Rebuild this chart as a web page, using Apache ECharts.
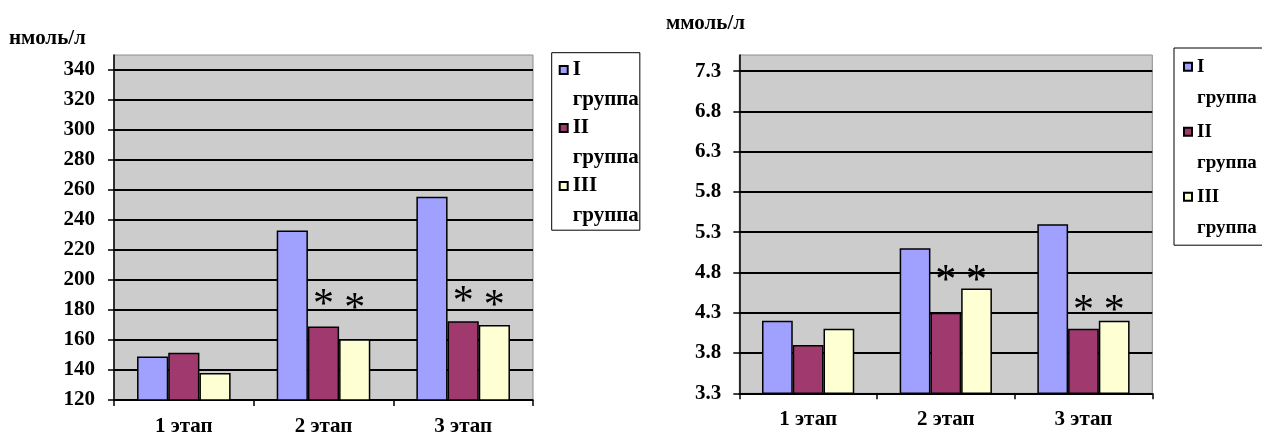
<!DOCTYPE html>
<html>
<head>
<meta charset="utf-8">
<script src="https://cdn.jsdelivr.net/npm/echarts@6/dist/echarts.min.js"></script>
<style>
  html, body { margin: 0; padding: 0; background: #fff; }
  #chart { width: 1262px; height: 434px; }
</style>
</head>
<body>
<div id="chart"></div>
<script>
const stages = ['1 этап', '2 этап', '3 этап']
const groups = ['I группа', 'II группа', 'III группа']

// левая диаграмма, нмоль/л
const nmolTicks = [120, 140, 160, 180, 200, 220, 240, 260, 280, 300, 320, 340]
const nmolG1 = [149, 233, 255.5]
const nmolG2 = [151.5, 169, 172.5]
const nmolG3 = [138, 160.5, 170]
// уровень звёздочек (null - нет)
const nmolStarG2 = [null, 190, 191.8]
const nmolStarG3 = [null, 187.3, 189.5]

// правая диаграмма, ммоль/л
const mmolTicks = [3.3, 3.8, 4.3, 4.8, 5.3, 5.8, 6.3, 6.8, 7.3]
const mmolG1 = [4.2, 5.1, 5.4]
const mmolG2 = [3.9, 4.3, 4.1]
const mmolG3 = [4.1, 4.6, 4.2]
const mmolStarG2 = [null, 4.82, 4.45]
const mmolStarG3 = [null, 4.82, 4.45]

const colors = ['#a0a0ff', '#a03a6e', '#ffffd4']
const font = 'Liberation Serif'

function barSeries(name, data, idx, color, stack) {
  return {
    name: name,
    type: 'bar',
    xAxisIndex: idx,
    yAxisIndex: idx,
    stack: stack,
    data: data,
    barCategoryGap: '33%',
    barGap: '0%',
    itemStyle: { color: color, borderColor: '#000', borderWidth: 1.5 },
    silent: true
  }
}

// прозрачный столбик поверх, на вершине - звёздочка
function starSeries(stars, values, idx, stack) {
  return {
    type: 'bar',
    xAxisIndex: idx,
    yAxisIndex: idx,
    stack: stack,
    silent: true,
    data: stars.map((s, i) => (s == null ? '-' : s - values[i])),
    itemStyle: { color: 'rgba(0,0,0,0)', borderWidth: 0 },
    label: {
      show: true,
      position: 'top',
      distance: 0,
      formatter: '*',
      verticalAlign: 'middle',
      offset: [0, 11],
      fontFamily: font,
      fontSize: 42,
      color: '#000'
    }
  }
}

function xAxis(idx) {
  return {
    type: 'category',
    gridIndex: idx,
    data: stages,
    axisLine: { lineStyle: { color: '#000', width: 1.5 } },
    axisTick: { show: true, length: 6, lineStyle: { color: '#000', width: 1.5 } },
    axisLabel: { margin: 16, color: '#000', fontFamily: font, fontWeight: 'bold', fontSize: 21 }
  }
}

function yAxis(idx, min, max, ticks, margin) {
  return {
    type: 'value',
    gridIndex: idx,
    min: min,
    max: max,
    axisLine: { show: true, lineStyle: { color: '#000', width: 1.5 } },
    axisTick: { show: true, length: 6, customValues: ticks, lineStyle: { color: '#000', width: 1.5 } },
    axisLabel: { customValues: ticks, margin: margin, color: '#000', fontFamily: font, fontWeight: 'bold', fontSize: 21 },
    splitLine: { show: true, lineStyle: { color: '#000', width: 2 } }
  }
}

// значок выровнен по первой строке подписи: невидимый хвост пути удлиняет его вниз
function legend(left, top, gap, padding, size, lh) {
  return {
    data: groups,
    orient: 'vertical',
    left: left,
    top: top,
    itemGap: gap,
    padding: padding,
    borderColor: '#000',
    borderWidth: 1,
    backgroundColor: '#fff',
    selectedMode: false,
    icon: 'path://M0 0H8V8H0Z M0 ' + (8 + lh),
    itemWidth: 8,
    itemHeight: 8 + lh,
    itemStyle: { borderColor: '#000', borderWidth: 2 },
    formatter: name => name.replace(' ', '\n'),
    textStyle: { fontFamily: font, fontWeight: 'bold', fontSize: size, lineHeight: lh, color: '#000' }
  }
}

const titleStyle = { fontFamily: font, fontWeight: 'bold', fontSize: 21, lineHeight: 22, color: '#000' }

const chart = echarts.init(document.getElementById('chart'))
chart.setOption({
  animation: false,
  backgroundColor: '#fff',
  title: [
    { text: 'нмоль/л', left: 9, top: 28, padding: 0, textStyle: titleStyle },
    { text: 'ммоль/л', left: 666, top: 13, padding: 0, textStyle: titleStyle }
  ],
  legend: [
    legend(551.7, 52.7, -1, [2.5, 1, 0, 7], 21, 29.5),
    legend(1174, 48, 3, [3.2, 40, 2, 9], 19, 31)
  ],
  grid: [
    { left: 114, top: 55, width: 419, height: 345, show: true, backgroundColor: '#cccccc',
      borderColor: '#8c8c8c', borderWidth: 1, outerBoundsMode: 'none' },
    { left: 739.3, top: 55, width: 413, height: 338.3, show: true, backgroundColor: '#cccccc',
      borderColor: '#8c8c8c', borderWidth: 1, outerBoundsMode: 'none' }
  ],
  xAxis: [xAxis(0), xAxis(1)],
  yAxis: [yAxis(0, 120, 350, nmolTicks, 19), yAxis(1, 3.3, 7.5, mmolTicks, 18)],
  series: [
    barSeries(groups[0], nmolG1, 0, colors[0], 'a1'),
    barSeries(groups[1], nmolG2, 0, colors[1], 'a2'),
    barSeries(groups[2], nmolG3, 0, colors[2], 'a3'),
    starSeries(nmolStarG2, nmolG2, 0, 'a2'),
    starSeries(nmolStarG3, nmolG3, 0, 'a3'),
    barSeries(groups[0], mmolG1, 1, colors[0], 'b1'),
    barSeries(groups[1], mmolG2, 1, colors[1], 'b2'),
    barSeries(groups[2], mmolG3, 1, colors[2], 'b3'),
    starSeries(mmolStarG2, mmolG2, 1, 'b2'),
    starSeries(mmolStarG3, mmolG3, 1, 'b3')
  ]
})
</script>
</body>
</html>
